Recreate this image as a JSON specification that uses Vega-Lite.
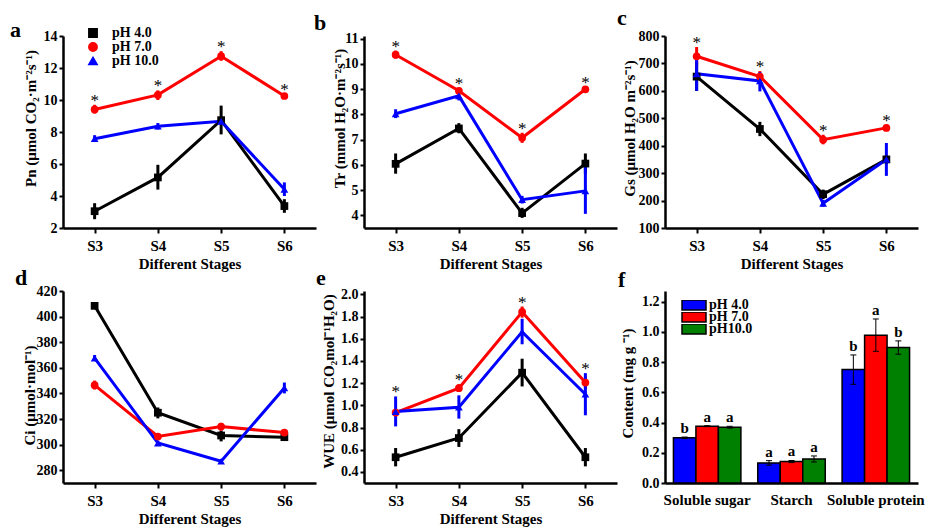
{
  "$schema": "https://vega.github.io/schema/vega-lite/v6.json",
  "padding": {"left": 10, "top": 7, "right": 5, "bottom": 5},
  "bounds": "flush",
  "columns": 3,
  "spacing": {"row": 63, "column": 48},
  "resolve": {"scale": {"color": "independent", "shape": "independent", "fill": "independent"}},
  "datasets": {
    "a": [
      {"s": "S3", "ph": "pH 4.0", "v": 3.05, "lo": 2.55, "hi": 3.55, "st": ""},
      {"s": "S4", "ph": "pH 4.0", "v": 5.16, "lo": 4.4, "hi": 5.95, "st": ""},
      {"s": "S5", "ph": "pH 4.0", "v": 8.74, "lo": 7.85, "hi": 9.65, "st": ""},
      {"s": "S6", "ph": "pH 4.0", "v": 3.37, "lo": 2.95, "hi": 3.8, "st": ""},
      {"s": "S3", "ph": "pH 7.0", "v": 9.41, "lo": 9.15, "hi": 9.7, "st": "*"},
      {"s": "S4", "ph": "pH 7.0", "v": 10.32, "lo": 10.0, "hi": 10.6, "st": "*"},
      {"s": "S5", "ph": "pH 7.0", "v": 12.74, "lo": 12.45, "hi": 13.05, "st": "*"},
      {"s": "S6", "ph": "pH 7.0", "v": 10.25, "lo": 10.15, "hi": 10.35, "st": "*"},
      {"s": "S3", "ph": "pH 10.0", "v": 7.58, "lo": 7.38, "hi": 7.8, "st": ""},
      {"s": "S4", "ph": "pH 10.0", "v": 8.36, "lo": 8.16, "hi": 8.56, "st": ""},
      {"s": "S5", "ph": "pH 10.0", "v": 8.67, "lo": 8.5, "hi": 8.85, "st": ""},
      {"s": "S6", "ph": "pH 10.0", "v": 4.42, "lo": 4.0, "hi": 4.85, "st": ""}
    ],
    "b": [
      {"s": "S3", "ph": "pH 4.0", "v": 6.04, "lo": 5.65, "hi": 6.45, "st": ""},
      {"s": "S4", "ph": "pH 4.0", "v": 7.44, "lo": 7.25, "hi": 7.65, "st": ""},
      {"s": "S5", "ph": "pH 4.0", "v": 4.09, "lo": 3.9, "hi": 4.3, "st": ""},
      {"s": "S6", "ph": "pH 4.0", "v": 6.05, "lo": 5.65, "hi": 6.45, "st": ""},
      {"s": "S3", "ph": "pH 7.0", "v": 10.36, "lo": 10.2, "hi": 10.52, "st": "*"},
      {"s": "S4", "ph": "pH 7.0", "v": 8.93, "lo": 8.83, "hi": 9.03, "st": "*"},
      {"s": "S5", "ph": "pH 7.0", "v": 7.07, "lo": 6.87, "hi": 7.27, "st": "*"},
      {"s": "S6", "ph": "pH 7.0", "v": 8.99, "lo": 8.9, "hi": 9.08, "st": "*"},
      {"s": "S3", "ph": "pH 10.0", "v": 8.02, "lo": 7.85, "hi": 8.2, "st": ""},
      {"s": "S4", "ph": "pH 10.0", "v": 8.73, "lo": 8.55, "hi": 8.9, "st": ""},
      {"s": "S5", "ph": "pH 10.0", "v": 4.62, "lo": 4.47, "hi": 4.77, "st": ""},
      {"s": "S6", "ph": "pH 10.0", "v": 4.97, "lo": 4.06, "hi": 6.0, "st": ""}
    ],
    "c": [
      {"s": "S3", "ph": "pH 4.0", "v": 652, "lo": 600, "hi": 705, "st": ""},
      {"s": "S4", "ph": "pH 4.0", "v": 461, "lo": 435, "hi": 487, "st": ""},
      {"s": "S5", "ph": "pH 4.0", "v": 223, "lo": 205, "hi": 240, "st": ""},
      {"s": "S6", "ph": "pH 4.0", "v": 350, "lo": 335, "hi": 365, "st": ""},
      {"s": "S3", "ph": "pH 7.0", "v": 726, "lo": 690, "hi": 760, "st": "*"},
      {"s": "S4", "ph": "pH 7.0", "v": 652, "lo": 635, "hi": 672, "st": "*"},
      {"s": "S5", "ph": "pH 7.0", "v": 422, "lo": 405, "hi": 440, "st": "*"},
      {"s": "S6", "ph": "pH 7.0", "v": 465, "lo": 455, "hi": 475, "st": "*"},
      {"s": "S3", "ph": "pH 10.0", "v": 662, "lo": 600, "hi": 725, "st": ""},
      {"s": "S4", "ph": "pH 10.0", "v": 636, "lo": 598, "hi": 668, "st": ""},
      {"s": "S5", "ph": "pH 10.0", "v": 190, "lo": 178, "hi": 202, "st": ""},
      {"s": "S6", "ph": "pH 10.0", "v": 350, "lo": 290, "hi": 410, "st": ""}
    ],
    "d": [
      {"s": "S3", "ph": "pH 4.0", "v": 408.4, "lo": 406.5, "hi": 410.5},
      {"s": "S4", "ph": "pH 4.0", "v": 324.9, "lo": 320.5, "hi": 329},
      {"s": "S5", "ph": "pH 4.0", "v": 307.1, "lo": 302.5, "hi": 311},
      {"s": "S6", "ph": "pH 4.0", "v": 305.8, "lo": 304, "hi": 307.5},
      {"s": "S3", "ph": "pH 7.0", "v": 346.4, "lo": 343, "hi": 350},
      {"s": "S4", "ph": "pH 7.0", "v": 306.3, "lo": 304.5, "hi": 308},
      {"s": "S5", "ph": "pH 7.0", "v": 314.1, "lo": 311, "hi": 317},
      {"s": "S6", "ph": "pH 7.0", "v": 309.4, "lo": 307.5, "hi": 311.5},
      {"s": "S3", "ph": "pH 10.0", "v": 367.6, "lo": 365.5, "hi": 370},
      {"s": "S4", "ph": "pH 10.0", "v": 301.2, "lo": 299.5, "hi": 303},
      {"s": "S5", "ph": "pH 10.0", "v": 287, "lo": 285.5, "hi": 288.5},
      {"s": "S6", "ph": "pH 10.0", "v": 344.3, "lo": 340, "hi": 348.5}
    ],
    "e": [
      {"s": "S3", "ph": "pH 4.0", "v": 0.532, "lo": 0.45, "hi": 0.615, "st": ""},
      {"s": "S4", "ph": "pH 4.0", "v": 0.705, "lo": 0.625, "hi": 0.785, "st": ""},
      {"s": "S5", "ph": "pH 4.0", "v": 1.294, "lo": 1.17, "hi": 1.42, "st": ""},
      {"s": "S6", "ph": "pH 4.0", "v": 0.532, "lo": 0.45, "hi": 0.615, "st": ""},
      {"s": "S3", "ph": "pH 7.0", "v": 0.935, "lo": 0.9, "hi": 0.97, "st": ""},
      {"s": "S4", "ph": "pH 7.0", "v": 1.154, "lo": 1.12, "hi": 1.19, "st": "*"},
      {"s": "S5", "ph": "pH 7.0", "v": 1.841, "lo": 1.79, "hi": 1.89, "st": "*"},
      {"s": "S6", "ph": "pH 7.0", "v": 1.205, "lo": 1.15, "hi": 1.26, "st": ""},
      {"s": "S3", "ph": "pH 10.0", "v": 0.944, "lo": 0.81, "hi": 1.08, "st": "*"},
      {"s": "S4", "ph": "pH 10.0", "v": 0.983, "lo": 0.88, "hi": 1.09, "st": ""},
      {"s": "S5", "ph": "pH 10.0", "v": 1.662, "lo": 1.55, "hi": 1.78, "st": ""},
      {"s": "S6", "ph": "pH 10.0", "v": 1.1, "lo": 0.91, "hi": 1.29, "st": "*"}
    ],
    "f": [
      {"cat": "Soluble sugar", "trt": "pH 4.0", "v": 0.299, "lo": 0.294, "hi": 0.304, "lt": "b"},
      {"cat": "Soluble sugar", "trt": "pH 7.0", "v": 0.376, "lo": 0.373, "hi": 0.379, "lt": "a"},
      {"cat": "Soluble sugar", "trt": "pH10.0", "v": 0.369, "lo": 0.363, "hi": 0.375, "lt": "a"},
      {"cat": "Starch", "trt": "pH 4.0", "v": 0.133, "lo": 0.118, "hi": 0.148, "lt": "a"},
      {"cat": "Starch", "trt": "pH 7.0", "v": 0.142, "lo": 0.135, "hi": 0.149, "lt": "a"},
      {"cat": "Starch", "trt": "pH10.0", "v": 0.159, "lo": 0.139, "hi": 0.179, "lt": "a"},
      {"cat": "Soluble protein", "trt": "pH 4.0", "v": 0.75, "lo": 0.653, "hi": 0.847, "lt": "b"},
      {"cat": "Soluble protein", "trt": "pH 7.0", "v": 0.978, "lo": 0.871, "hi": 1.085, "lt": "a"},
      {"cat": "Soluble protein", "trt": "pH10.0", "v": 0.896, "lo": 0.852, "hi": 0.94, "lt": "b"}
    ]
  },
  "concat": [
    {
      "width": 253, "height": 192,
      "data": {"name": "a"},
      "title": {"text": "a", "dx": -53, "offset": -14},
      "encoding": {
        "x": {"field": "s", "type": "ordinal", "scale": {"type": "point", "padding": 0.5}, "axis": {"title": "Different Stages"}},
        "y": {"field": "v", "type": "quantitative", "scale": {"domain": [2, 14], "nice": false, "zero": false}, "axis": {"title": "Pn (μmol CO₂·m⁻²s⁻¹)", "values": [2, 4, 6, 8, 10, 12, 14], "titleX": -25, "titleY": 82}},
        "color": {"field": "ph", "type": "nominal", "scale": {"domain": ["pH 4.0", "pH 7.0", "pH 10.0"], "range": ["#000000", "#ff0000", "#0000ff"]}, "legend": {"orient": "none", "legendX": 23, "legendY": -8, "title": null, "labelFontSize": 14, "labelFontWeight": "bold", "labelFont": "Liberation Serif", "labelColor": "black", "symbolSize": 70, "clipHeight": 10, "rowPadding": 0, "labelOffset": 12}}
      },
      "layer": [
        {"mark": {"type": "rule", "strokeWidth": 3}, "encoding": {"y": {"field": "lo", "type": "quantitative", "title": "Pn (μmol CO₂·m⁻²s⁻¹)"}, "y2": {"field": "hi"}}},
        {"mark": {"type": "line", "strokeWidth": 3}, "encoding": {}},
        {"mark": {"type": "point", "filled": true, "size": 60, "opacity": 1}, "encoding": {"shape": {"field": "ph", "type": "nominal", "scale": {"domain": ["pH 4.0", "pH 7.0", "pH 10.0"], "range": ["square", "circle", "triangle-up"]}, "legend": {"orient": "none", "legendX": 23, "legendY": -8, "title": null, "labelFontSize": 14, "labelFontWeight": "bold", "labelFont": "Liberation Serif", "labelColor": "black", "symbolSize": 70, "clipHeight": 10, "rowPadding": 0, "labelOffset": 12}}}},
        {"transform": [{"filter": "datum.st == '*'"}], "mark": {"type": "text", "fontSize": 17, "baseline": "alphabetic", "dy": 1, "font": "Liberation Serif"}, "encoding": {"y": {"field": "hi", "type": "quantitative", "title": "Pn (μmol CO₂·m⁻²s⁻¹)"}, "text": {"field": "st"}, "color": {"value": "black"}}}
      ]
    },
    {
      "width": 253, "height": 192,
      "data": {"name": "b"},
      "title": {"text": "b", "dx": -50, "offset": -3},
      "encoding": {
        "x": {"field": "s", "type": "ordinal", "scale": {"type": "point", "padding": 0.5}, "axis": {"title": "Different Stages"}},
        "y": {"field": "v", "type": "quantitative", "scale": {"domain": [3.5, 11.1], "nice": false, "zero": false}, "axis": {"title": "Tr (mmol H₂O·m⁻²s⁻¹)", "values": [4, 5, 6, 7, 8, 9, 10, 11], "titleX": -17, "titleY": 82}},
        "color": {"field": "ph", "type": "nominal", "scale": {"domain": ["pH 4.0", "pH 7.0", "pH 10.0"], "range": ["#000000", "#ff0000", "#0000ff"]}, "legend": null}
      },
      "layer": [
        {"mark": {"type": "rule", "strokeWidth": 3}, "encoding": {"y": {"field": "lo", "type": "quantitative", "title": "Tr (mmol H₂O·m⁻²s⁻¹)"}, "y2": {"field": "hi"}}},
        {"mark": {"type": "line", "strokeWidth": 3}, "encoding": {}},
        {"mark": {"type": "point", "filled": true, "size": 60, "opacity": 1}, "encoding": {"shape": {"field": "ph", "type": "nominal", "scale": {"domain": ["pH 4.0", "pH 7.0", "pH 10.0"], "range": ["square", "circle", "triangle-up"]}, "legend": null}}},
        {"transform": [{"filter": "datum.st == '*'"}], "mark": {"type": "text", "fontSize": 17, "baseline": "alphabetic", "dy": 1, "font": "Liberation Serif"}, "encoding": {"y": {"field": "hi", "type": "quantitative", "title": "Tr (mmol H₂O·m⁻²s⁻¹)"}, "text": {"field": "st"}, "color": {"value": "black"}}}
      ]
    },
    {
      "width": 253, "height": 192,
      "data": {"name": "c"},
      "title": {"text": "c", "dx": -48, "offset": -1},
      "encoding": {
        "x": {"field": "s", "type": "ordinal", "scale": {"type": "point", "padding": 0.5}, "axis": {"title": "Different Stages"}},
        "y": {"field": "v", "type": "quantitative", "scale": {"domain": [100, 800], "nice": false, "zero": false}, "axis": {"title": "Gs (μmol H₂O m⁻²s⁻¹)", "values": [100, 200, 300, 400, 500, 600, 700, 800], "titleX": -28, "titleY": 92}},
        "color": {"field": "ph", "type": "nominal", "scale": {"domain": ["pH 4.0", "pH 7.0", "pH 10.0"], "range": ["#000000", "#ff0000", "#0000ff"]}, "legend": null}
      },
      "layer": [
        {"mark": {"type": "rule", "strokeWidth": 3}, "encoding": {"y": {"field": "lo", "type": "quantitative", "title": "Gs (μmol H₂O m⁻²s⁻¹)"}, "y2": {"field": "hi"}}},
        {"mark": {"type": "line", "strokeWidth": 3}, "encoding": {}},
        {"mark": {"type": "point", "filled": true, "size": 60, "opacity": 1}, "encoding": {"shape": {"field": "ph", "type": "nominal", "scale": {"domain": ["pH 4.0", "pH 7.0", "pH 10.0"], "range": ["square", "circle", "triangle-up"]}, "legend": null}}},
        {"transform": [{"filter": "datum.st == '*'"}], "mark": {"type": "text", "fontSize": 17, "baseline": "alphabetic", "dy": 1, "font": "Liberation Serif"}, "encoding": {"y": {"field": "hi", "type": "quantitative", "title": "Gs (μmol H₂O m⁻²s⁻¹)"}, "text": {"field": "st"}, "color": {"value": "black"}}}
      ]
    },
    {
      "width": 253, "height": 192,
      "data": {"name": "d"},
      "title": {"text": "d", "dx": -48, "offset": -6},
      "encoding": {
        "x": {"field": "s", "type": "ordinal", "scale": {"type": "point", "padding": 0.5}, "axis": {"title": "Different Stages"}},
        "y": {"field": "v", "type": "quantitative", "scale": {"domain": [270, 420], "nice": false, "zero": false}, "axis": {"title": "Ci (μmol·mol⁻¹)", "values": [280, 300, 320, 340, 360, 380, 400, 420], "titleX": -26, "titleY": 104}},
        "color": {"field": "ph", "type": "nominal", "scale": {"domain": ["pH 4.0", "pH 7.0", "pH 10.0"], "range": ["#000000", "#ff0000", "#0000ff"]}, "legend": null}
      },
      "layer": [
        {"mark": {"type": "rule", "strokeWidth": 3}, "encoding": {"y": {"field": "lo", "type": "quantitative", "title": "Ci (μmol·mol⁻¹)"}, "y2": {"field": "hi"}}},
        {"mark": {"type": "line", "strokeWidth": 3}, "encoding": {}},
        {"mark": {"type": "point", "filled": true, "size": 60, "opacity": 1}, "encoding": {"shape": {"field": "ph", "type": "nominal", "scale": {"domain": ["pH 4.0", "pH 7.0", "pH 10.0"], "range": ["square", "circle", "triangle-up"]}, "legend": null}}}
      ]
    },
    {
      "width": 253, "height": 192,
      "data": {"name": "e"},
      "title": {"text": "e", "dx": -48, "offset": -3},
      "encoding": {
        "x": {"field": "s", "type": "ordinal", "scale": {"type": "point", "padding": 0.5}, "axis": {"title": "Different Stages"}},
        "y": {"field": "v", "type": "quantitative", "scale": {"domain": [0.3, 2.03], "nice": false, "zero": false}, "axis": {"title": "WUE (μmol CO₂mol⁻¹H₂O)", "values": [0.4, 0.6, 0.8, 1.0, 1.2, 1.4, 1.6, 1.8, 2.0], "format": ".1f", "titleX": -28, "titleY": 90}},
        "color": {"field": "ph", "type": "nominal", "scale": {"domain": ["pH 4.0", "pH 7.0", "pH 10.0"], "range": ["#000000", "#ff0000", "#0000ff"]}, "legend": null}
      },
      "layer": [
        {"mark": {"type": "rule", "strokeWidth": 3}, "encoding": {"y": {"field": "lo", "type": "quantitative", "title": "WUE (μmol CO₂mol⁻¹H₂O)"}, "y2": {"field": "hi"}}},
        {"mark": {"type": "line", "strokeWidth": 3}, "encoding": {}},
        {"mark": {"type": "point", "filled": true, "size": 60, "opacity": 1}, "encoding": {"shape": {"field": "ph", "type": "nominal", "scale": {"domain": ["pH 4.0", "pH 7.0", "pH 10.0"], "range": ["square", "circle", "triangle-up"]}, "legend": null}}},
        {"transform": [{"filter": "datum.st == '*'"}], "mark": {"type": "text", "fontSize": 17, "baseline": "alphabetic", "dy": 1, "font": "Liberation Serif"}, "encoding": {"y": {"field": "hi", "type": "quantitative", "title": "WUE (μmol CO₂mol⁻¹H₂O)"}, "text": {"field": "st"}, "color": {"value": "black"}}}
      ]
    },
    {
      "width": 253, "height": 192,
      "data": {"name": "f"},
      "title": {"text": "f", "dx": -47, "offset": -1},
      "encoding": {
        "x": {"field": "cat", "type": "nominal", "sort": ["Soluble sugar", "Starch", "Soluble protein"], "scale": {"paddingInner": 0.2, "paddingOuter": 0.1}, "axis": {"title": null, "ticks": false, "labelPadding": 9, "labelFontSize": 15}},
        "xOffset": {"field": "trt", "type": "nominal", "sort": ["pH 4.0", "pH 7.0", "pH10.0"], "scale": {"paddingInner": 0, "paddingOuter": 0}},
        "y": {"field": "v", "type": "quantitative", "scale": {"domain": [0, 1.27], "nice": false}, "axis": {"title": "Content (mg g ⁻¹)", "values": [0, 0.2, 0.4, 0.6, 0.8, 1.0, 1.2], "format": ".1f", "titleX": -30, "titleY": 92}}
      },
      "layer": [
        {"mark": {"type": "bar", "stroke": "black", "strokeWidth": 1.5}, "encoding": {"fill": {"field": "trt", "type": "nominal", "scale": {"domain": ["pH 4.0", "pH 7.0", "pH10.0"], "range": ["#0000ff", "#ff0000", "#008000"]}, "legend": {"orient": "none", "legendX": 16, "legendY": 9, "title": null, "labelFontSize": 14, "labelFontWeight": "bold", "labelFont": "Liberation Serif", "labelColor": "black", "symbolType": "M-1,-0.42H1V0.42H-1Z", "symbolSize": 576, "symbolStrokeColor": "black", "symbolStrokeWidth": 1.5, "clipHeight": 10, "rowPadding": -4, "labelOffset": 2}}}},
        {"mark": {"type": "rule", "color": "black", "strokeWidth": 1}, "encoding": {"y": {"field": "lo", "type": "quantitative", "title": "Content (mg g ⁻¹)"}, "y2": {"field": "hi"}}},
        {"mark": {"type": "tick", "color": "black", "thickness": 1, "opacity": 1}, "encoding": {"y": {"field": "lo", "type": "quantitative", "title": "Content (mg g ⁻¹)"}, "size": {"value": 6}}},
        {"mark": {"type": "tick", "color": "black", "thickness": 1, "opacity": 1}, "encoding": {"y": {"field": "hi", "type": "quantitative", "title": "Content (mg g ⁻¹)"}, "size": {"value": 6}}},
        {"mark": {"type": "text", "fontSize": 15, "fontWeight": "bold", "baseline": "alphabetic", "dy": -4, "font": "Liberation Serif", "color": "black"}, "encoding": {"y": {"field": "hi", "type": "quantitative", "title": "Content (mg g ⁻¹)"}, "text": {"field": "lt"}}}
      ]
    }
  ],
  "config": {
    "font": "Liberation Serif",
    "view": {"stroke": null},
    "legend": {"rowPadding": 0},
    "title": {"font": "Liberation Serif", "fontSize": 22, "fontWeight": "bold", "anchor": "start", "frame": "group", "color": "black", "offset": 6},
    "axis": {"grid": false, "domainColor": "black", "domainWidth": 2.5, "tickColor": "black", "tickWidth": 2, "labelColor": "black", "titleColor": "black", "labelFont": "Liberation Serif", "titleFont": "Liberation Serif", "labelFontWeight": "bold", "titleFontWeight": "bold"},
    "axisX": {"labelFontSize": 15, "titleFontSize": 15, "tickSize": 5, "labelPadding": 5, "titlePadding": 3, "labelAngle": 0},
    "axisY": {"labelFontSize": 14, "titleFontSize": 15, "tickSize": 4, "labelPadding": 2, "titleBaseline": "bottom"}
  }
}
